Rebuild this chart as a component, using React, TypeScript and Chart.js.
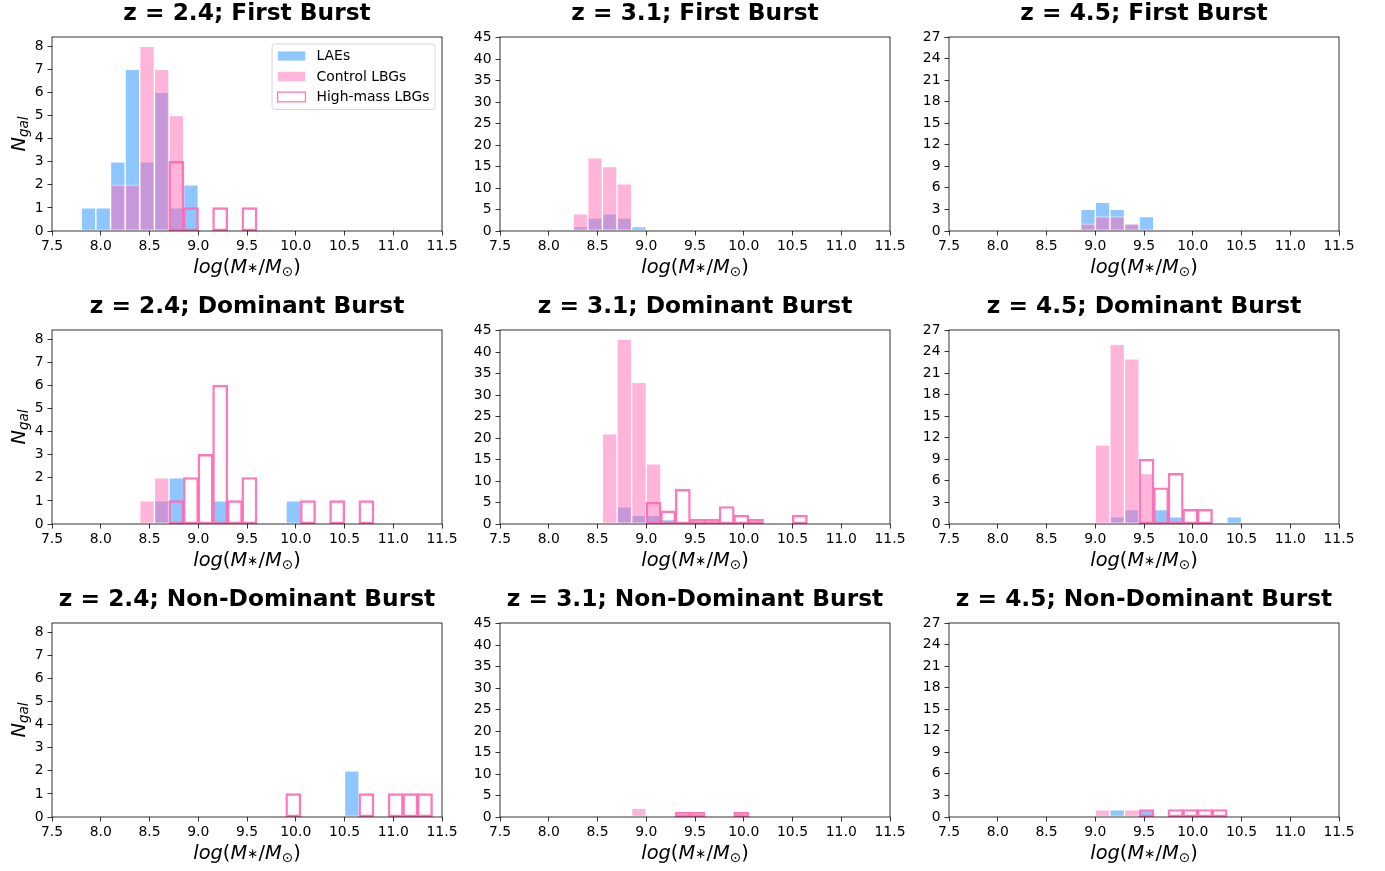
import React, { useEffect, useRef } from "react";
import { Chart, registerables } from "chart.js";

Chart.register(...registerables);
Chart.defaults.font.family = "'DejaVu Sans', sans-serif";

// ---- bins (left edges, width 0.15) ----
const binEdges = [7.5, 7.65, 7.8, 7.95, 8.1, 8.25, 8.4, 8.55, 8.7, 8.85, 9.0, 9.15, 9.3, 9.45, 9.6, 9.75, 9.9, 10.05, 10.2, 10.35, 10.5, 10.65, 10.8, 10.95, 11.1, 11.25, 11.4];
const binWidth = 0.15;

// ---- counts per bin (aligned with binEdges) ----
// z = 2.4; First Burst
const laeZ24First = [0, 0, 1, 1, 3, 7, 3, 6, 1, 2, 0, 0, 0, 0, 0, 0, 0, 0, 0, 0, 0, 0, 0, 0, 0, 0, 0];
const ctrlZ24First = [0, 0, 0, 0, 2, 2, 8, 7, 5, 0, 0, 0, 0, 0, 0, 0, 0, 0, 0, 0, 0, 0, 0, 0, 0, 0, 0];
const hmZ24First = [0, 0, 0, 0, 0, 0, 0, 0, 3, 1, 0, 1, 0, 1, 0, 0, 0, 0, 0, 0, 0, 0, 0, 0, 0, 0, 0];
// z = 3.1; First Burst
const laeZ31First = [0, 0, 0, 0, 0, 1, 3, 4, 3, 1, 0, 0, 0, 0, 0, 0, 0, 0, 0, 0, 0, 0, 0, 0, 0, 0, 0];
const ctrlZ31First = [0, 0, 0, 0, 0, 4, 17, 15, 11, 0, 0, 0, 0, 0, 0, 0, 0, 0, 0, 0, 0, 0, 0, 0, 0, 0, 0];
const hmZ31First = [0, 0, 0, 0, 0, 0, 0, 0, 0, 0, 0, 0, 0, 0, 0, 0, 0, 0, 0, 0, 0, 0, 0, 0, 0, 0, 0];
// z = 4.5; First Burst
const laeZ45First = [0, 0, 0, 0, 0, 0, 0, 0, 0, 3, 4, 3, 1, 2, 0, 0, 0, 0, 0, 0, 0, 0, 0, 0, 0, 0, 0];
const ctrlZ45First = [0, 0, 0, 0, 0, 0, 0, 0, 0, 1, 2, 2, 1, 0, 0, 0, 0, 0, 0, 0, 0, 0, 0, 0, 0, 0, 0];
const hmZ45First = [0, 0, 0, 0, 0, 0, 0, 0, 0, 0, 0, 0, 0, 0, 0, 0, 0, 0, 0, 0, 0, 0, 0, 0, 0, 0, 0];
// z = 2.4; Dominant Burst
const laeZ24Dom = [0, 0, 0, 0, 0, 0, 0, 1, 2, 0, 0, 1, 0, 0, 0, 0, 1, 0, 0, 0, 0, 0, 0, 0, 0, 0, 0];
const ctrlZ24Dom = [0, 0, 0, 0, 0, 0, 1, 2, 0, 0, 0, 0, 0, 0, 0, 0, 0, 0, 0, 0, 0, 0, 0, 0, 0, 0, 0];
const hmZ24Dom = [0, 0, 0, 0, 0, 0, 0, 0, 1, 2, 3, 6, 1, 2, 0, 0, 0, 1, 0, 1, 0, 1, 0, 0, 0, 0, 0];
// z = 3.1; Dominant Burst
const laeZ31Dom = [0, 0, 0, 0, 0, 0, 0, 0, 4, 2, 2, 1, 0, 0, 0, 0, 0, 0, 0, 0, 0, 0, 0, 0, 0, 0, 0];
const ctrlZ31Dom = [0, 0, 0, 0, 0, 0, 0, 21, 43, 33, 14, 0, 0, 0, 0, 0, 0, 0, 0, 0, 0, 0, 0, 0, 0, 0, 0];
const hmZ31Dom = [0, 0, 0, 0, 0, 0, 0, 0, 0, 0, 5, 3, 8, 1, 1, 4, 2, 1, 0, 0, 2, 0, 0, 0, 0, 0, 0];
// z = 4.5; Dominant Burst
const laeZ45Dom = [0, 0, 0, 0, 0, 0, 0, 0, 0, 0, 0, 1, 2, 0, 2, 1, 0, 0, 0, 1, 0, 0, 0, 0, 0, 0, 0];
const ctrlZ45Dom = [0, 0, 0, 0, 0, 0, 0, 0, 0, 0, 11, 25, 23, 7, 0, 0, 0, 0, 0, 0, 0, 0, 0, 0, 0, 0, 0];
const hmZ45Dom = [0, 0, 0, 0, 0, 0, 0, 0, 0, 0, 0, 0, 0, 9, 5, 7, 2, 2, 0, 0, 0, 0, 0, 0, 0, 0, 0];
// z = 2.4; Non-Dominant Burst
const laeZ24Non = [0, 0, 0, 0, 0, 0, 0, 0, 0, 0, 0, 0, 0, 0, 0, 0, 0, 0, 0, 0, 2, 0, 0, 0, 0, 0, 0];
const ctrlZ24Non = [0, 0, 0, 0, 0, 0, 0, 0, 0, 0, 0, 0, 0, 0, 0, 0, 0, 0, 0, 0, 0, 0, 0, 0, 0, 0, 0];
const hmZ24Non = [0, 0, 0, 0, 0, 0, 0, 0, 0, 0, 0, 0, 0, 0, 0, 0, 1, 0, 0, 0, 0, 1, 0, 1, 1, 1, 0];
// z = 3.1; Non-Dominant Burst
const laeZ31Non = [0, 0, 0, 0, 0, 0, 0, 0, 0, 0, 0, 0, 0, 0, 0, 0, 0, 0, 0, 0, 0, 0, 0, 0, 0, 0, 0];
const ctrlZ31Non = [0, 0, 0, 0, 0, 0, 0, 0, 0, 2, 0, 0, 0, 0, 0, 0, 0, 0, 0, 0, 0, 0, 0, 0, 0, 0, 0];
const hmZ31Non = [0, 0, 0, 0, 0, 0, 0, 0, 0, 0, 0, 0, 1, 1, 0, 0, 1, 0, 0, 0, 0, 0, 0, 0, 0, 0, 0];
// z = 4.5; Non-Dominant Burst
const laeZ45Non = [0, 0, 0, 0, 0, 0, 0, 0, 0, 0, 0, 1, 0, 1, 0, 0, 0, 0, 0, 0, 0, 0, 0, 0, 0, 0, 0];
const ctrlZ45Non = [0, 0, 0, 0, 0, 0, 0, 0, 0, 0, 1, 0, 1, 0, 0, 0, 0, 0, 0, 0, 0, 0, 0, 0, 0, 0, 0];
const hmZ45Non = [0, 0, 0, 0, 0, 0, 0, 0, 0, 0, 0, 0, 0, 1, 0, 1, 1, 1, 1, 0, 0, 0, 0, 0, 0, 0, 0];

const redshiftLabels = ["2.4", "3.1", "4.5"];
const burstLabels = ["First Burst", "Dominant Burst", "Non-Dominant Burst"];
const seriesLabels = ["LAEs", "Control LBGs", "High-mass LBGs"];
const xTickMin = 7.5;
const xTickMax = 11.5;
const xTickStep = 0.5;
const yMaxByColumn = [8.4, 45.15, 27];
const yStepByColumn = [1, 5, 3];

// panels[row][col] = [lae, ctrl, hm]
const panels = [
  [[laeZ24First, ctrlZ24First, hmZ24First], [laeZ31First, ctrlZ31First, hmZ31First], [laeZ45First, ctrlZ45First, hmZ45First]],
  [[laeZ24Dom, ctrlZ24Dom, hmZ24Dom], [laeZ31Dom, ctrlZ31Dom, hmZ31Dom], [laeZ45Dom, ctrlZ45Dom, hmZ45Dom]],
  [[laeZ24Non, ctrlZ24Non, hmZ24Non], [laeZ31Non, ctrlZ31Non, hmZ31Non], [laeZ45Non, ctrlZ45Non, hmZ45Non]],
];

// ---- layout / style ----
const COL_LEFT = [52, 500, 949];
const ROW_TOP = [37, 330, 623];
const PLOT_W = 390;
const PLOT_H = 194;
const PAD_L = 52;
const PAD_R = 24;
const PAD_T = 37;
const PAD_B = 58;
const CANVAS_W = PAD_L + PLOT_W + PAD_R;
const CANVAS_H = PAD_T + PLOT_H + PAD_B;

const LAE_FILL = "rgba(30,144,255,0.5)";
const CTRL_FILL = "rgba(255,105,180,0.5)";
const FILL_EDGE = "rgba(255,255,255,0.5)";
const HM_EDGE = "rgba(255,105,180,0.9)";
const FONT = "'DejaVu Sans'";

type Part = { t: string; f: string; dy: number };

function richWidth(ctx: CanvasRenderingContext2D, parts: Part[]) {
  let w = 0;
  for (const p of parts) {
    ctx.font = p.f;
    w += ctx.measureText(p.t).width;
  }
  return w;
}
function drawRich(ctx: CanvasRenderingContext2D, parts: Part[], x: number, y: number) {
  let cx = x;
  ctx.textAlign = "left";
  ctx.textBaseline = "alphabetic";
  for (const p of parts) {
    ctx.font = p.f;
    ctx.fillText(p.t, cx, y + p.dy);
    cx += ctx.measureText(p.t).width;
  }
}

const XLABEL: Part[] = [
  { t: "log", f: `italic 19.4px ${FONT}`, dy: 0 },
  { t: "(", f: `19.4px ${FONT}`, dy: 0 },
  { t: "M", f: `italic 19.4px ${FONT}`, dy: 0 },
  { t: "\u2217", f: `13.6px ${FONT}`, dy: -1 },
  { t: "/", f: `19.4px ${FONT}`, dy: 0 },
  { t: "M", f: `italic 19.4px ${FONT}`, dy: 0 },
  { t: "\u2299", f: `13.6px ${FONT}`, dy: 3 },
  { t: ")", f: `19.4px ${FONT}`, dy: 0 },
];
const YLABEL: Part[] = [
  { t: "N", f: `italic 19.4px ${FONT}`, dy: 0 },
  { t: "gal", f: `italic 13.6px ${FONT}`, dy: 3 },
];

const decorPlugin = {
  id: "panelDecor",
  afterDatasetsDraw(chart: any) {
    const { ctx, chartArea: a } = chart;
    ctx.save();
    ctx.strokeStyle = "#000";
    ctx.lineWidth = 0.8;
    ctx.strokeRect(a.left, a.top, a.right - a.left, a.bottom - a.top);
    ctx.restore();
  },
  afterDraw(chart: any, _args: any, opts: any) {
    const { ctx, chartArea: a } = chart;
    const cx = (a.left + a.right) / 2;
    ctx.save();
    ctx.fillStyle = "#000";
    // title
    ctx.font = `bold 23.3px ${FONT}`;
    ctx.textAlign = "center";
    ctx.textBaseline = "alphabetic";
    ctx.fillText(opts.title, cx, a.top - 17.5);
    // x label
    const xw = richWidth(ctx, XLABEL);
    drawRich(ctx, XLABEL, cx - xw / 2, a.bottom + 41.5);
    // y label
    if (opts.yLabel) {
      const yw = richWidth(ctx, YLABEL);
      ctx.save();
      ctx.translate(25, (a.top + a.bottom) / 2);
      ctx.rotate(-Math.PI / 2);
      drawRich(ctx, YLABEL, -yw / 2, 0);
      ctx.restore();
    }
    // legend
    if (opts.legend) {
      const fs = 13.9;
      ctx.font = `${fs}px ${FONT}`;
      let tw = 0;
      for (const l of seriesLabels) tw = Math.max(tw, ctx.measureText(l).width);
      const pad = 0.4 * fs;
      const hl = 2.0 * fs;
      const hh = 0.7 * fs;
      const htp = 0.8 * fs;
      const w = pad + hl + htp + tw + pad;
      const h = 65.5;
      const right = a.right - 7;
      const left = right - w;
      const top = a.top + 7;
      const r = 2.8;
      ctx.beginPath();
      ctx.moveTo(left + r, top);
      ctx.lineTo(right - r, top);
      ctx.arcTo(right, top, right, top + r, r);
      ctx.lineTo(right, top + h - r);
      ctx.arcTo(right, top + h, right - r, top + h, r);
      ctx.lineTo(left + r, top + h);
      ctx.arcTo(left, top + h, left, top + h - r, r);
      ctx.lineTo(left, top + r);
      ctx.arcTo(left, top, left + r, top, r);
      ctx.closePath();
      ctx.fillStyle = "rgba(255,255,255,0.8)";
      ctx.fill();
      ctx.strokeStyle = "rgba(204,204,204,0.8)";
      ctx.lineWidth = 1;
      ctx.stroke();
      const rows = [12, 32.5, 53];
      const hx = left + pad;
      for (let i = 0; i < 3; i++) {
        const yc = top + rows[i];
        if (i < 2) {
          ctx.fillStyle = i === 0 ? LAE_FILL : CTRL_FILL;
          ctx.fillRect(hx, yc - hh / 2, hl, hh);
          ctx.strokeStyle = FILL_EDGE;
          ctx.lineWidth = 1;
          ctx.strokeRect(hx, yc - hh / 2, hl, hh);
        } else {
          ctx.strokeStyle = HM_EDGE;
          ctx.lineWidth = 1.3;
          ctx.strokeRect(hx, yc - hh / 2, hl, hh);
        }
        ctx.fillStyle = "#000";
        ctx.font = `${fs}px ${FONT}`;
        ctx.textAlign = "left";
        ctx.textBaseline = "middle";
        ctx.fillText(seriesLabels[i], hx + hl + htp, yc + 0.5);
      }
    }
    ctx.restore();
  },
};

function toPoints(counts: number[]) {
  return counts.map((c, i) => ({ x: binEdges[i] + binWidth / 2, y: c }));
}

function makeChart(canvas: HTMLCanvasElement, row: number, col: number) {
  const [lae, ctrl, hm] = panels[row][col];
  const common = { barPercentage: 1, categoryPercentage: 1, grouped: false, borderSkipped: false as const };
  const tickFont = { size: 13.9, family: FONT };
  return new Chart(canvas, {
    type: "bar",
    data: {
      datasets: [
        { ...common, label: seriesLabels[0], data: toPoints(lae), backgroundColor: LAE_FILL, borderColor: FILL_EDGE, borderWidth: 1, order: 3 },
        { ...common, label: seriesLabels[1], data: toPoints(ctrl), backgroundColor: CTRL_FILL, borderColor: FILL_EDGE, borderWidth: 1, order: 2 },
        { ...common, label: seriesLabels[2], data: toPoints(hm), backgroundColor: "rgba(0,0,0,0)", borderColor: HM_EDGE, borderWidth: 1.2, inflateAmount: 0.6, order: 1 },
      ],
    } as any,
    options: {
      responsive: false,
      animation: false,
      events: [],
      layout: { padding: { left: 0, right: PAD_R, top: PAD_T, bottom: 0 } },
      scales: {
        x: {
          type: "linear",
          min: xTickMin,
          max: xTickMax,
          offset: false,
          grid: { offset: false, display: true, drawOnChartArea: false, drawTicks: true, tickLength: 4.5, tickWidth: 0.8, tickColor: "#000" },
          border: { display: false },
          ticks: {
            stepSize: xTickStep,
            includeBounds: false,
            autoSkip: false,
            maxRotation: 0,
            padding: 3,
            color: "#000",
            font: tickFont,
            callback: (v: any) => Number(v).toFixed(1),
          },
          afterFit: (s: any) => {
            s.height = PAD_B;
            s.paddingLeft = 0;
            s.paddingRight = 0;
          },
        },
        y: {
          type: "linear",
          min: 0,
          max: yMaxByColumn[col],
          grid: { display: true, drawOnChartArea: false, drawTicks: true, tickLength: 4.5, tickWidth: 0.8, tickColor: "#000" },
          border: { display: false },
          ticks: {
            stepSize: yStepByColumn[col],
            includeBounds: false,
            autoSkip: false,
            padding: 4,
            color: "#000",
            font: tickFont,
            callback: (v: any) => String(Math.round(Number(v))),
          },
          afterFit: (s: any) => {
            s.width = PAD_L;
            s.paddingTop = 0;
            s.paddingBottom = 0;
          },
        },
      },
      plugins: {
        legend: { display: false },
        tooltip: { enabled: false },
        panelDecor: {
          title: `z = ${redshiftLabels[col]}; ${burstLabels[row]}`,
          yLabel: col === 0,
          legend: row === 0 && col === 0,
        },
      } as any,
    } as any,
    plugins: [decorPlugin as any],
  });
}

export default function App() {
  const refs = useRef<(HTMLCanvasElement | null)[]>([]);
  useEffect(() => {
    const charts: Chart[] = [];
    for (let r = 0; r < 3; r++) {
      for (let c = 0; c < 3; c++) {
        const cv = refs.current[r * 3 + c];
        if (cv) charts.push(makeChart(cv, r, c));
      }
    }
    return () => charts.forEach((ch) => ch.destroy());
  }, []);

  const cells = [];
  for (let r = 0; r < 3; r++) {
    for (let c = 0; c < 3; c++) {
      const idx = r * 3 + c;
      cells.push(
        <canvas
          key={idx}
          ref={(el) => {
            refs.current[idx] = el;
          }}
          width={CANVAS_W}
          height={CANVAS_H}
          style={{
            position: "absolute",
            left: COL_LEFT[c] - PAD_L,
            top: ROW_TOP[r] - PAD_T,
            width: CANVAS_W,
            height: CANVAS_H,
          }}
        />
      );
    }
  }
  return (
    <div
      style={{
        position: "absolute",
        left: 0,
        top: 0,
        width: 1385,
        height: 871,
        overflow: "hidden",
        background: "#fff",
      }}
    >
      {cells}
    </div>
  );
}
